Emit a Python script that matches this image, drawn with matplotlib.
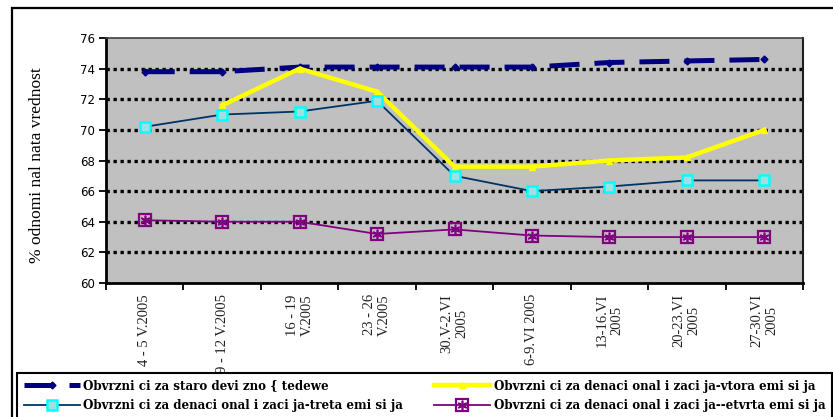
import numpy as np
import matplotlib.pyplot as plt
from matplotlib.patches import Rectangle

# podatoci
periodi = ["4 - 5 V.2005", "9 - 12 V.2005", "16 - 19\nV.2005", "23 - 26\nV.2005",
           "30.V-2.VI\n2005", "6-9.VI 2005", "13-16.VI\n2005", "20-23.VI\n2005",
           "27-30.VI\n2005"]
staro_devizno = [73.8, 73.8, 74.1, 74.1, 74.1, 74.1, 74.4, 74.5, 74.6]
vtora = [np.nan, 71.6, 74.0, 72.5, 67.6, 67.6, 68.0, 68.2, 70.0]
treta = [70.2, 71.0, 71.2, 71.9, 67.0, 66.0, 66.3, 66.7, 66.7]
cetvrta = [64.1, 64.0, 64.0, 63.2, 63.5, 63.1, 63.0, 63.0, 63.0]

names = ["Obvrzni ci za staro devi zno { tedewe",
         "Obvrzni ci za denaci onal i zaci ja-vtora emi si ja",
         "Obvrzni ci za denaci onal i zaci ja-treta emi si ja",
         "Obvrzni ci za denaci onal i zaci ja--etvrta emi si ja"]

W, H = 833, 417
fig = plt.figure(figsize=(W/100, H/100), dpi=100)
ax = fig.add_axes([106/W, 1-283/H, 697/W, 245/H])
ax.set_facecolor("#c0c0c0")

x = np.arange(len(periodi))

# mreza
for yv in range(62, 76, 2):
    ax.axhline(yv, color="black", lw=2.4, ls=(0, (1, 1.1)), zorder=1)

l1, = ax.plot(x, staro_devizno, color="#000080", lw=3.6, ls=(0, (6, 3)),
              marker="D", ms=3.5, zorder=3)
l2, = ax.plot(x, vtora, color="#ffff00", lw=3.2, marker="^", ms=5, zorder=4)
l3, = ax.plot(x, treta, color="#003366", lw=1.3, marker="s", ms=6.5,
              mfc="#a0e0e0", mec="#00ffff", mew=1.8, zorder=5)
l4, = ax.plot(x, cetvrta, color="#800080", lw=1.3, marker="s", ms=9,
              mfc="none", mec="#800080", mew=1.6, zorder=5)
l4b, = ax.plot(x, cetvrta, ls="none", marker=(6, 2, 0), ms=7,
               mec="#800080", mew=1.2, zorder=6)

ax.set_xlim(-0.5, len(periodi) - 0.5)
ax.set_ylim(60, 76)
ax.set_yticks(range(60, 77, 2))
ax.tick_params(axis="y", direction="out", length=5, width=1.3, labelsize=8.5, pad=3)
for t in ax.get_yticklabels():
    t.set_fontfamily("DejaVu Sans")

ax.set_xticks(np.arange(-0.5, len(periodi), 1))
ax.set_xticklabels([])
ax.tick_params(axis="x", direction="out", length=5, width=1.3)
ax.set_xticks(x, minor=True)
ax.set_xticklabels(periodi, minor=True, rotation=90, ha="center", va="top",
                   multialignment="center", fontsize=10.5, family="Liberation Serif",
                   color="#222222")
ax.tick_params(axis="x", which="minor", length=0, pad=8)

for s in ["left", "bottom"]:
    ax.spines[s].set_linewidth(2)
    ax.spines[s].set_color("black")
ax.spines["top"].set_color("#404040")
ax.spines["top"].set_linewidth(1.2)
ax.spines["right"].set_color("#202020")
ax.spines["right"].set_linewidth(1.5)

fig.text(37/W, 1-165/H, "% odnomi nal nata vrednost", rotation=90, ha="center",
         va="center", fontsize=12.5, family="Liberation Serif")

# okvir
fig.patches.append(Rectangle((12/W, -0.2), 1.2, 1.2 - 8/H, transform=fig.transFigure,
                             fill=False, ec="black", lw=1.6))

# legenda (ncol=2 se polni po koloni)
leg = fig.legend([l1, l3, l2, (l4, l4b)], [names[0], names[2], names[1], names[3]],
                 ncol=2, loc="upper left", numpoints=1,
                 bbox_to_anchor=(17/W, 1-373/H), borderaxespad=0,
                 prop={"family": "DejaVu Serif", "weight": "bold", "size": 8.6},
                 handlelength=4.7, handletextpad=0.3, columnspacing=2.6,
                 labelspacing=0.55, borderpad=0.55, fancybox=False,
                 edgecolor="black", framealpha=1)
leg.get_frame().set_linewidth(1.5)

fig.savefig("out.png", dpi=100)
